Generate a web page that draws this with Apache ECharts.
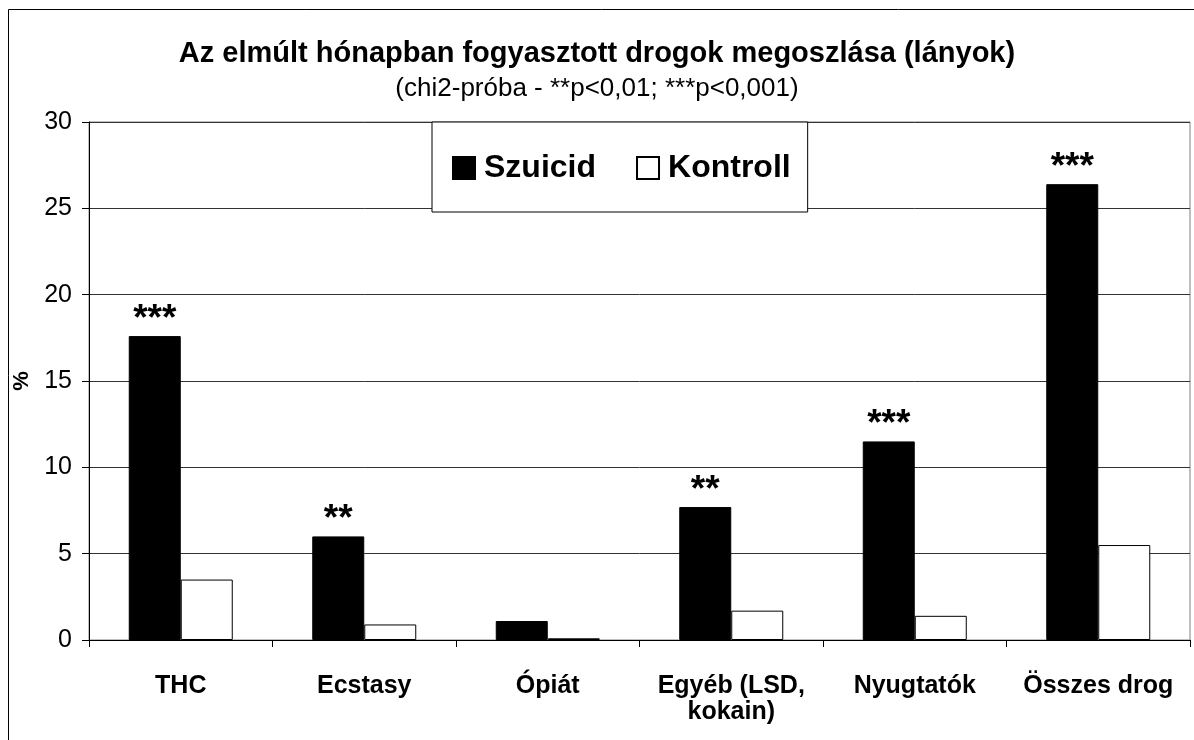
<!DOCTYPE html>
<html>
<head>
<meta charset="utf-8">
<script src="https://cdn.jsdelivr.net/npm/echarts@6/dist/echarts.min.js"></script>
<style>
  html, body { margin: 0; padding: 0; background: #fff; }
  #chart { width: 1194px; height: 740px; }
</style>
</head>
<body>
<div id="chart"></div>
<script>
// adatok
const categories = ["THC", "Ecstasy", "Ópiát", "Egyéb (LSD,\nkokain)", "Nyugtatók", "Összes drog"];
const szuicid = [17.6, 6.0, 1.1, 7.7, 11.5, 26.4];
const kontroll = [3.5, 0.9, 0.1, 1.7, 1.4, 5.5];
const stars = ["***", "**", "", "**", "***", "***"];
const yTicks = [0, 5, 10, 15, 20, 25, 30];

const font = "Liberation Sans, Arial, sans-serif";
const chart = echarts.init(document.getElementById("chart"));

chart.setOption({
  animation: false,
  backgroundColor: "#fff",
  textStyle: { fontFamily: font },
  title: {
    text: "Az elmúlt hónapban fogyasztott drogok megoszlása (lányok)",
    subtext: "(chi2-próba - **p<0,01; ***p<0,001)",
    left: "center",
    top: 34,
    itemGap: 8,
    textStyle: { fontFamily: font, fontSize: 29, fontWeight: "bold", color: "#000" },
    subtextStyle: { fontFamily: font, fontSize: 26, color: "#000" },
  },
  legend: {
    left: 432,
    top: 122,
    padding: [30, 17, 28, 20],
    itemGap: 40,
    itemWidth: 22,
    itemHeight: 22,
    icon: "rect",
    backgroundColor: "#fff",
    borderColor: "#000",
    borderWidth: 1,
    textStyle: { fontFamily: font, fontSize: 32, fontWeight: "bold", color: "#000", padding: [0, 0, 0, 4] },
    data: ["Szuicid", "Kontroll"],
  },
  grid: {
    left: 89,
    right: 4,
    top: 122,
    bottom: 100,
    show: true,
    borderColor: "#808080",
    borderWidth: 1,
    z: 0,
  },
  xAxis: {
    type: "category",
    data: categories,
    axisLine: { lineStyle: { color: "#000", width: 1 } },
    axisTick: { show: true, length: 7, lineStyle: { color: "#000" } },
    axisLabel: {
      margin: 33,
      fontFamily: font,
      fontSize: 25,
      fontWeight: "bold",
      color: "#000",
      lineHeight: 26,
      interval: 0,
    },
  },
  yAxis: {
    type: "value",
    min: yTicks[0],
    max: yTicks[yTicks.length - 1],
    interval: 5,
    name: "%",
    nameLocation: "middle",
    nameGap: 51,
    nameRotate: 90,
    nameTextStyle: { fontFamily: font, fontSize: 22, fontWeight: "bold", color: "#000" },
    axisLine: { show: true, lineStyle: { color: "#000", width: 1 } },
    axisTick: { show: true, length: 7, lineStyle: { color: "#000" } },
    axisLabel: { margin: 17, fontFamily: font, fontSize: 25, color: "#000" },
    splitLine: { show: true, lineStyle: { color: "#333", width: 1 } },
  },
  series: [
    {
      name: "Szuicid",
      type: "bar",
      data: szuicid,
      barWidth: 52,
      barGap: "0%",
      itemStyle: { color: "#000", borderColor: "#000", borderWidth: 1 },
      label: {
        show: true,
        position: "top",
        distance: -2,
        formatter: (p) => stars[p.dataIndex],
        fontFamily: font,
        fontSize: 37,
        fontWeight: "bold",
        color: "#000",
      },
    },
    {
      name: "Kontroll",
      type: "bar",
      data: kontroll,
      barWidth: 52,
      barGap: "0%",
      itemStyle: { color: "#fff", borderColor: "#000", borderWidth: 1 },
    },
  ],
  graphic: [
    {
      type: "rect",
      shape: { x: 8.5, y: 9.5, width: 1200, height: 800 },
      style: { fill: null, stroke: "#000", lineWidth: 1 },
      silent: true,
    },
  ],
});
</script>
</body>
</html>
